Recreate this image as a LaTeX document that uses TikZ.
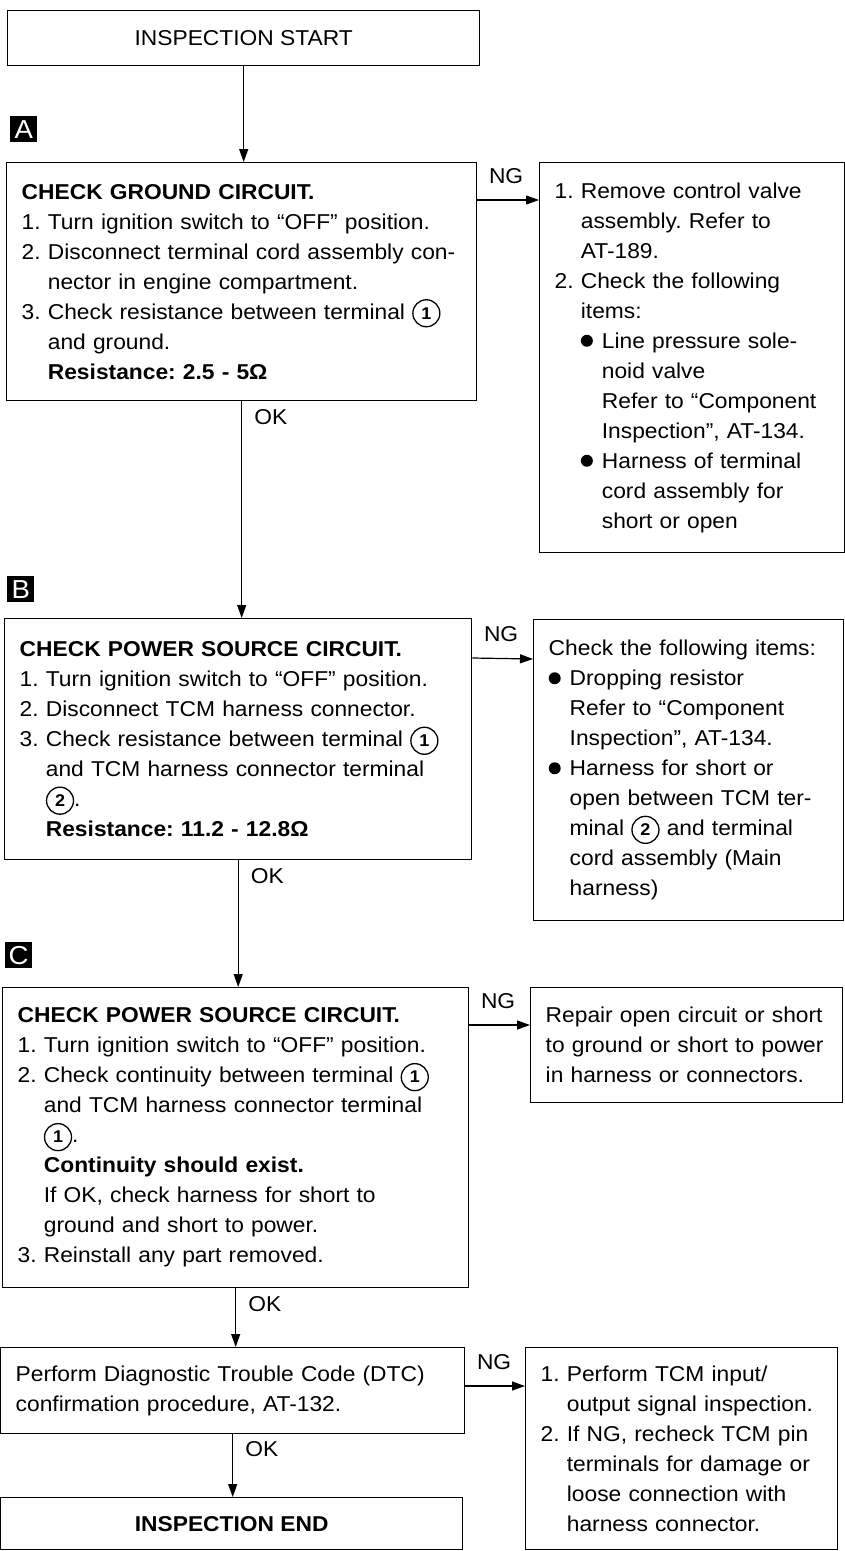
\documentclass[tikz,border=0pt]{standalone}
\usepackage{fontspec}
\setmainfont{Liberation Sans}[FakeStretch=1.06]
\usetikzlibrary{arrows.meta}
\frenchspacing

\newcommand{\ind}{\hphantom{1.\ }}
\newcommand{\bind}{\hspace*{21pt}}
\newcommand{\blt}{\makebox[21pt][l]{\tikz[baseline=0pt]\fill (6pt,7.5pt) circle (6pt);}}
\newcommand{\cnum}[1]{\tikz[baseline=(cn.base)]\node[cnumber] (cn) {#1};}

\tikzset{
  stepbox/.style={draw, line width=1.4pt, anchor=north west, inner xsep=15pt, inner ysep=0pt,
    align=left, font=\fontsize{21.5pt}{30pt}\selectfont},
  endbox/.style={draw, line width=1.4pt, anchor=north west, inner sep=0pt, align=center,
    font=\fontsize{21.5pt}{30pt}\selectfont},
  tag/.style={fill=black, text=white, inner sep=0pt, minimum width=27pt, minimum height=26pt,
    anchor=north west, font=\fontsize{26pt}{26pt}\selectfont},
  flow/.style={line width=1.2pt, -{Triangle[length=13pt,width=9pt]}},
  lbl/.style={inner sep=0pt, anchor=base west, font=\fontsize{21.5pt}{30pt}\selectfont},
  cnumber/.style={circle, draw, line width=1.3pt, inner sep=0pt, minimum size=27pt, text width={},
    align=center, anchor=center, text=black, font=\fontsize{17pt}{17pt}\bfseries\selectfont}
}

\begin{document}
\begin{tikzpicture}[x=1pt, y=-1pt]
  \useasboundingbox[fill=white] (0,0) rectangle (845,1551);
  % main column
  \node[endbox, minimum width=472pt, minimum height=55pt] (start) at (7,10) {INSPECTION START};
  \node[tag] (tagA) at (10,116) {A};
  \node[stepbox, text width=440pt, minimum height=238pt] (chkA) at (6,162) {%
    \textbf{CHECK GROUND CIRCUIT.}\\
    1. Turn ignition switch to “OFF” position.\\
    2. Disconnect terminal cord assembly con-\\
    \ind nector in engine compartment.\\
    3. Check resistance between terminal \cnum{1}\\
    \ind and ground.\\
    \ind\textbf{Resistance: 2.5 - 5Ω}};
  \node[tag] (tagB) at (7,576) {B};
  \node[stepbox, text width=437pt, minimum height=241pt] (chkB) at (4,618) {%
    \textbf{CHECK POWER SOURCE CIRCUIT.}\\
    1. Turn ignition switch to “OFF” position.\\
    2. Disconnect TCM harness connector.\\
    3. Check resistance between terminal \cnum{1}\\
    \ind and TCM harness connector terminal\\
    \ind\cnum{2}.\\
    \ind\textbf{Resistance: 11.2 - 12.8Ω}};
  \node[tag] (tagC) at (5,942) {C};
  \node[stepbox, text width=436pt, minimum height=300pt] (chkC) at (2,987) {%
    \textbf{CHECK POWER SOURCE CIRCUIT.}\\
    1. Turn ignition switch to “OFF” position.\\
    2. Check continuity between terminal \cnum{1}\\
    \ind and TCM harness connector terminal\\
    \ind\cnum{1}.\\
    \ind\textbf{Continuity should exist.}\\
    \ind If OK, check harness for short to\\
    \ind ground and short to power.\\
    3. Reinstall any part removed.};
  \node[stepbox, text width=434pt, minimum height=86pt] (dtc) at (0,1347) {%
    Perform Diagnostic Trouble Code (DTC)\\
    confirmation procedure, AT-132.};
  \node[endbox, minimum width=462pt, minimum height=52pt] (finish) at (0,1497) {\textbf{INSPECTION END}};
  % NG column
  \node[stepbox, text width=275pt, minimum height=390pt] (fixA) at (539,162) {%
    1. Remove control valve\\
    \ind assembly. Refer to\\
    \ind AT-189.\\
    2. Check the following\\
    \ind items:\\
    \ind\blt Line pressure sole-\\
    \ind\bind noid valve\\
    \ind\bind Refer to “Component\\
    \ind\bind Inspection”, AT-134.\\
    \ind\blt Harness of terminal\\
    \ind\bind cord assembly for\\
    \ind\bind short or open};
  \node[stepbox, text width=280pt, minimum height=301pt] (fixB) at (533,619) {%
    Check the following items:\\
    \blt Dropping resistor\\
    \bind Refer to “Component\\
    \bind Inspection”, AT-134.\\
    \blt Harness for short or\\
    \bind open between TCM ter-\\
    \bind minal \cnum{2} and terminal\\
    \bind cord assembly (Main\\
    \bind harness)};
  \node[stepbox, text width=282pt, minimum height=115pt] (fixC) at (530,987) {%
    Repair open circuit or short\\
    to ground or short to power\\
    in harness or connectors.};
  \node[stepbox, text width=282pt, minimum height=202pt] (fixD) at (525,1347) {%
    1. Perform TCM input/\\
    \ind output signal inspection.\\
    2. If NG, recheck TCM pin\\
    \ind terminals for damage or\\
    \ind loose connection with\\
    \ind harness connector.};
  % OK arrows
  \draw[flow] (start.south) -- (start.south |- chkA.north);
  \draw[flow] (chkA.south) -- node[lbl, pos=0, xshift=12pt, yshift=-23pt] (okA) {OK} (chkA.south |- chkB.north);
  \draw[flow] (chkB.south) -- node[lbl, pos=0, xshift=12pt, yshift=-23pt] (okB) {OK} (chkB.south |- chkC.north);
  \draw[flow] (chkC.south) -- node[lbl, pos=0, xshift=12pt, yshift=-23pt] (okC) {OK} (chkC.south |- dtc.north);
  \draw[flow] (dtc.south) -- node[lbl, pos=0, xshift=12pt, yshift=-22pt] (okD) {OK} (dtc.south |- finish.north);
  % NG arrows
  \draw[flow] ([yshift=-38pt]chkA.north east) -- node[lbl, pos=0, xshift=11pt, yshift=17pt] (ngA) {NG} ([yshift=-38pt]fixA.north west);
  \draw[flow] ([yshift=-40pt]chkB.north east) -- node[lbl, pos=0, xshift=11pt, yshift=17pt] (ngB) {NG} ([yshift=-40pt]fixB.north west);
  \draw[flow] ([yshift=-38pt]chkC.north east) -- node[lbl, pos=0, xshift=11pt, yshift=17pt] (ngC) {NG} ([yshift=-38pt]fixC.north west);
  \draw[flow] ([yshift=-39pt]dtc.north east) -- node[lbl, pos=0, xshift=11pt, yshift=17pt] (ngD) {NG} ([yshift=-39pt]fixD.north west);
\end{tikzpicture}
\end{document}
